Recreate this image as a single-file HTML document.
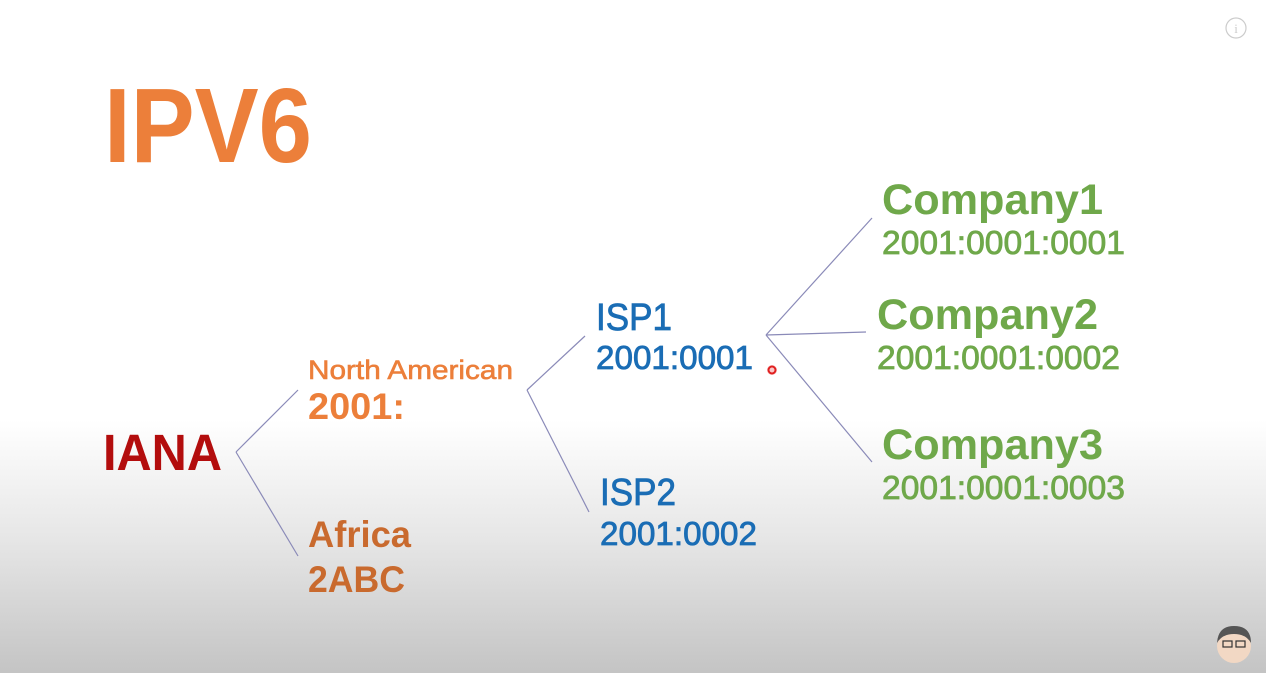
<!DOCTYPE html>
<html><head><meta charset="utf-8"><style>
html,body{margin:0;padding:0}
body{width:1266px;height:673px;overflow:hidden;background:linear-gradient(to bottom,#fff 0px,#fff 420px,#e6e6e6 540px,#c4c4c4 673px);font-family:"Liberation Sans",sans-serif}
svg{position:absolute;left:0;top:0}
</style></head><body>
<svg width="1266" height="673">
<g stroke="#8a8ab8" stroke-width="1.2" fill="none">
<line x1="236" y1="452" x2="298" y2="390"/><line x1="236" y1="452" x2="298" y2="556"/>
<line x1="527" y1="390" x2="585" y2="336"/><line x1="527" y1="390" x2="589" y2="512"/>
<line x1="766" y1="335" x2="872" y2="218"/><line x1="766" y1="335" x2="866" y2="332"/><line x1="766" y1="335" x2="872" y2="462"/>
</g>
<g font-family="Liberation Sans, sans-serif" font-weight="bold">
<text x="104" y="162" font-size="106" fill="#ec7f3a" textLength="208" lengthAdjust="spacingAndGlyphs">IPV6</text>
<text x="103" y="470" font-size="51" fill="#b30d0d" textLength="119" lengthAdjust="spacingAndGlyphs">IANA</text>
<text x="308" y="379" font-size="27" fill="#ec7f3a" textLength="205" lengthAdjust="spacingAndGlyphs" font-weight="normal" stroke="#ec7f3a" stroke-width="0.6">North American</text>
<text x="308" y="419" font-size="37" fill="#ec7f3a" textLength="97" lengthAdjust="spacingAndGlyphs">2001:</text>
<text x="308" y="547" font-size="37" fill="#c96a2e" textLength="103" lengthAdjust="spacingAndGlyphs">Africa</text>
<text x="308" y="592" font-size="37" fill="#c96a2e" textLength="97" lengthAdjust="spacingAndGlyphs">2ABC</text>
<text x="596" y="330" font-size="38" fill="#1a6db5" textLength="76" lengthAdjust="spacingAndGlyphs" font-weight="normal" stroke="#1a6db5" stroke-width="0.8">ISP1</text>
<text x="596" y="369" font-size="33" fill="#1a6db5" textLength="157" lengthAdjust="spacingAndGlyphs" font-weight="normal" stroke="#1a6db5" stroke-width="0.8">2001:0001</text>
<text x="600" y="505" font-size="38" fill="#1a6db5" textLength="76" lengthAdjust="spacingAndGlyphs" font-weight="normal" stroke="#1a6db5" stroke-width="0.8">ISP2</text>
<text x="600" y="545" font-size="33" fill="#1a6db5" textLength="157" lengthAdjust="spacingAndGlyphs" font-weight="normal" stroke="#1a6db5" stroke-width="0.8">2001:0002</text>
<text x="882" y="214" font-size="43" fill="#6fa84a" textLength="221" lengthAdjust="spacingAndGlyphs">Company1</text>
<text x="882" y="254" font-size="33" fill="#6fa84a" textLength="243" lengthAdjust="spacingAndGlyphs" font-weight="normal" stroke="#6fa84a" stroke-width="0.8">2001:0001:0001</text>
<text x="877" y="329" font-size="43" fill="#6fa84a" textLength="221" lengthAdjust="spacingAndGlyphs">Company2</text>
<text x="877" y="369" font-size="33" fill="#6fa84a" textLength="243" lengthAdjust="spacingAndGlyphs" font-weight="normal" stroke="#6fa84a" stroke-width="0.8">2001:0001:0002</text>
<text x="882" y="459" font-size="43" fill="#6fa84a" textLength="221" lengthAdjust="spacingAndGlyphs">Company3</text>
<text x="882" y="499" font-size="33" fill="#6fa84a" textLength="243" lengthAdjust="spacingAndGlyphs" font-weight="normal" stroke="#6fa84a" stroke-width="0.8">2001:0001:0003</text>
</g>
<circle cx="772" cy="370" r="5" fill="#f7b0b0" opacity="0.7"/>
<circle cx="772" cy="370" r="3.5" fill="none" stroke="#e02020" stroke-width="2"/>
<g>
<circle cx="1236" cy="28" r="10" fill="none" stroke="#ccc" stroke-width="1.2"/>
<text x="1236" y="33" font-size="13" fill="#ccc" text-anchor="middle" font-family="Liberation Serif, serif">i</text>
</g>
<g>
<circle cx="1234" cy="646" r="17" fill="#f2d8c4"/>
<path d="M1217 643 Q1218 626 1234 626 Q1251 626 1251 643 Q1246 634 1234 634 Q1222 634 1217 643Z" fill="#555"/>
<rect x="1223" y="641" width="9" height="6" fill="none" stroke="#333" stroke-width="1.2"/>
<rect x="1236" y="641" width="9" height="6" fill="none" stroke="#333" stroke-width="1.2"/>
</g>
</svg>
</body></html>
